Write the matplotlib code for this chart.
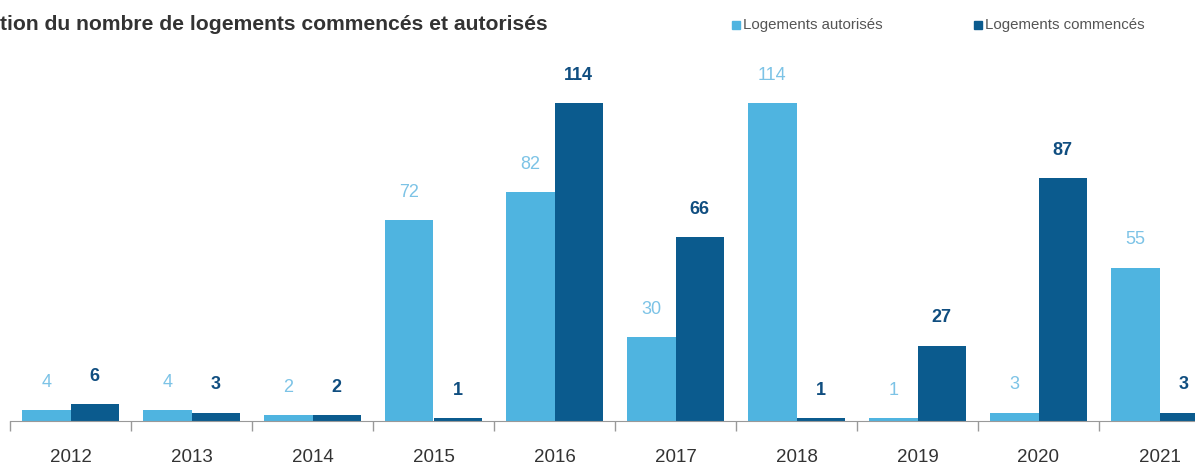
import numpy as np
import matplotlib.pyplot as plt
from matplotlib.patches import Rectangle

plt.rcParams['font.family'] = ['Liberation Sans', 'DejaVu Sans']

annees = ["2012", "2013", "2014", "2015", "2016", "2017", "2018", "2019", "2020", "2021"]
autorises = [4, 4, 2, 72, 82, 30, 114, 1, 3, 55]
commences = [6, 3, 2, 1, 114, 66, 1, 27, 87, 3]

c_aut = "#4fb4e0"
c_com = "#0b5b8e"

W, H = 1195, 467
fig = plt.figure(figsize=(W / 100, H / 100), dpi=100)
# axes run a little past the right edge, like the cropped original
ax = fig.add_axes([10 / W, 46 / H, 1210 / W, 361 / H])

x = np.arange(len(annees))
bw = 0.4
b1 = ax.bar(x - bw / 2, autorises, bw, color=c_aut)
b2 = ax.bar(x + bw / 2, commences, bw, color=c_com)

for rect, v in zip(b1, autorises):
    ax.annotate(str(v), (rect.get_x() + rect.get_width() / 2, v), xytext=(0, 20),
                textcoords="offset points", ha="center", va="center",
                fontsize=13, color="#7cc3e6")
for rect, v in zip(b2, commences):
    ax.annotate(str(v), (rect.get_x() + rect.get_width() / 2, v), xytext=(0, 20),
                textcoords="offset points", ha="center", va="center",
                fontsize=13, color="#104e80", fontweight="bold")

ax.set_xlim(-0.5, len(annees) - 0.5)
ax.set_ylim(0, 129.4)
ax.set_yticks([])
ax.set_xticks(x)
ax.set_xticklabels(annees, fontsize=13.5, color="#333333")
ax.set_xticks(np.arange(len(annees) + 1) - 0.5, minor=True)
ax.tick_params(axis="x", which="major", length=0, pad=20)
ax.tick_params(axis="x", which="minor", length=7, color="#999999", width=1)
for s in ["top", "right", "left"]:
    ax.spines[s].set_visible(False)
ax.spines["bottom"].set_color("#999999")

fig.text(0, 1 - 25 / H, "tion du nombre de logements commencés et autorisés",
         fontsize=15.2, fontweight="bold", color="#333333", va="center", ha="left")

# legend: small squares + labels
ly = 1 - 25 / H
fig.patches.append(Rectangle((732 / W, ly - 4 / H), 8 / W, 8 / H, color=c_aut,
                             transform=fig.transFigure, figure=fig))
fig.text(743 / W, ly, "Logements autorisés", color="#555555", fontsize=10.8,
         va="center")
fig.patches.append(Rectangle((974 / W, ly - 4 / H), 8 / W, 8 / H, color=c_com,
                             transform=fig.transFigure, figure=fig))
fig.text(985 / W, ly, "Logements commencés", color="#555555", fontsize=10.8,
         va="center")

fig.savefig("out.png", dpi=100)
